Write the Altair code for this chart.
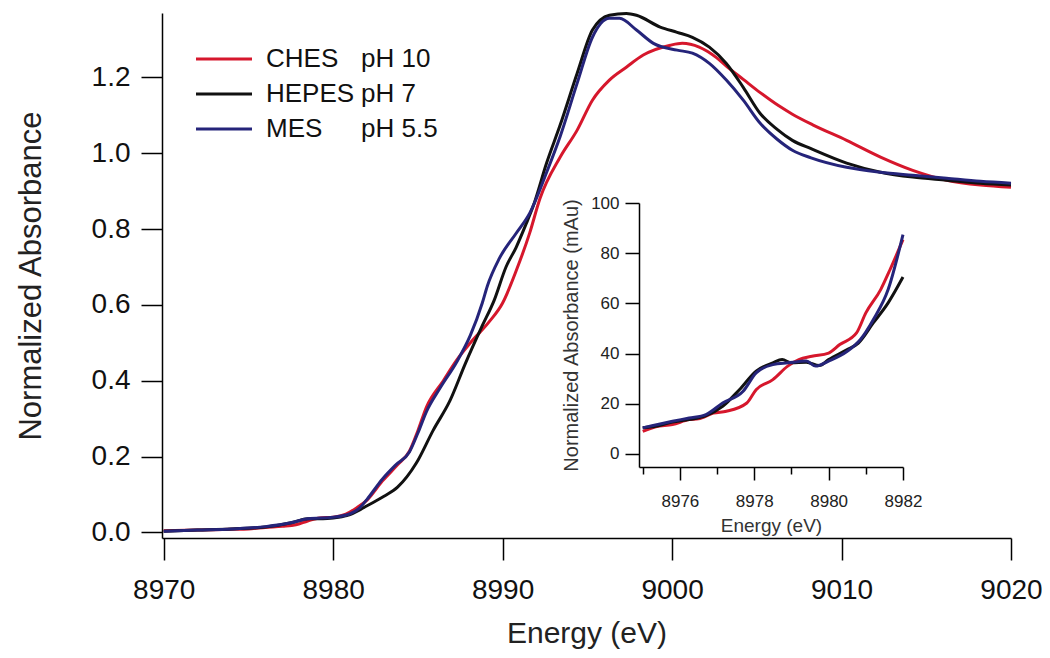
import altair as alt
import pandas as pd

FONT = "Liberation Sans"

# ---------------- main spectra (Energy eV, normalized absorbance) ----------------
ches_x = [8970, 8972, 8974, 8975, 8976, 8977, 8977.8, 8978.5, 8979.2, 8980, 8980.75, 8981.4, 8982.0,
          8982.9, 8983.8, 8984.5, 8985.0, 8985.5, 8986.5, 8987.3, 8988.1, 8989.2, 8990.0, 8990.8,
          8991.6, 8992.2, 8993.4, 8994.4, 8995.3, 8996.3, 8997.3, 8998.3, 8999.9, 9000.6, 9001.6,
          9002.6, 9003.2, 9004.2, 9005.2, 9006.3, 9007.1, 9008.3, 9010.3, 9012.3, 9014.2, 9016.2,
          9018.2, 9020]
ches_y = [0.004, 0.006, 0.008, 0.009, 0.013, 0.016, 0.020, 0.030, 0.038, 0.040, 0.048, 0.065, 0.085,
          0.135, 0.178, 0.214, 0.268, 0.330, 0.400, 0.455, 0.500, 0.555, 0.605, 0.690,
          0.790, 0.880, 0.990, 1.061, 1.140, 1.193, 1.227, 1.259, 1.285, 1.290, 1.280,
          1.253, 1.230, 1.195, 1.160, 1.125, 1.103, 1.075, 1.034, 0.990, 0.955, 0.929,
          0.916, 0.910]

hepes_x = [8970, 8972, 8974, 8976, 8977.6, 8978.5, 8979.4, 8980, 8980.8, 8981.6, 8982.0, 8983.0,
           8983.8, 8984.9, 8985.9, 8986.9, 8987.8, 8988.8, 8989.5, 8990.2, 8990.8, 8991.4, 8991.8,
           8992.6, 8993.4, 8994.4, 8995.3, 8996.3, 8997.3, 8997.9, 8999.3, 9000.3, 9001.2, 9002.2,
           9003.2, 9004.2, 9005.2, 9006.2, 9007.1, 9008.2, 9010.3, 9012.3, 9014.2, 9016.2, 9018.2,
           9020]
hepes_y = [0.003, 0.006, 0.009, 0.014, 0.026, 0.036, 0.036, 0.038, 0.044, 0.060, 0.070, 0.095,
           0.119, 0.182, 0.269, 0.348, 0.445, 0.545, 0.612, 0.700, 0.752, 0.815, 0.860,
           0.975, 1.075, 1.211, 1.325, 1.364, 1.369, 1.364, 1.333, 1.319, 1.306, 1.280,
           1.237, 1.174, 1.105, 1.063, 1.034, 1.012, 0.974, 0.950, 0.937, 0.929, 0.921,
           0.916]

mes_x = [8970, 8972, 8974, 8976, 8977.5, 8978.5, 8980, 8981, 8981.6, 8982.0, 8982.9, 8983.7,
         8984.5, 8985.0, 8985.5, 8986.3, 8987.3, 8988.1, 8988.8, 8989.1, 8989.8, 8990.8, 8991.6,
         8992.6, 8993.4, 8994.4, 8995.3, 8996.3, 8996.9, 8997.9, 8998.9, 9000.3, 9001.2, 9002.2,
         9003.2, 9004.2, 9005.2, 9006.2, 9007.1, 9008.2, 9010.3, 9012.3, 9014.2, 9016.2, 9018.2,
         9020]
mes_y = [0.003, 0.006, 0.009, 0.015, 0.025, 0.036, 0.040, 0.049, 0.066, 0.087, 0.140, 0.178,
         0.212, 0.262, 0.318, 0.380, 0.450, 0.520, 0.605, 0.650, 0.722, 0.789, 0.842,
         0.950, 1.045, 1.185, 1.306, 1.356, 1.356, 1.325, 1.290, 1.272, 1.264, 1.237,
         1.193, 1.140, 1.079, 1.037, 1.008, 0.988, 0.963, 0.950, 0.942, 0.934, 0.926,
         0.921]

# ---------------- inset pre-edge (Energy eV, mAu) ----------------
in_ches_x = [8975, 8975.35, 8975.8, 8976.25, 8976.5, 8976.9, 8977.25, 8977.8, 8978.05, 8978.5,
             8978.9, 8979.2, 8979.55, 8980.0, 8980.3, 8980.75, 8981.0, 8981.4, 8981.65, 8982.0]
in_ches_y = [9.0, 10.8, 11.7, 13.7, 14.0, 16.3, 17.0, 20.3, 25.6, 29.6,
             35.0, 37.6, 38.9, 40.2, 43.6, 48.2, 56.2, 65.5, 73.4, 85.4]

in_hepes_x = [8975, 8975.35, 8975.8, 8976.25, 8976.7, 8977.15, 8977.6, 8978.05, 8978.5, 8978.75,
              8979.0, 8979.4, 8979.75, 8980.0, 8980.5, 8980.8, 8981.2, 8981.6, 8982.0]
in_hepes_y = [10.4, 11.0, 12.7, 13.7, 15.3, 19.0, 25.6, 33.0, 36.3, 37.6,
              36.3, 36.5, 35.2, 37.6, 41.6, 44.2, 52.2, 60.2, 70.5]

in_mes_x = [8975, 8975.8, 8976.25, 8976.7, 8977.15, 8977.7, 8978.05, 8978.5, 8978.9, 8979.4,
            8979.65, 8980.0, 8980.5, 8980.85, 8981.2, 8981.6, 8982.0]
in_mes_y = [10.4, 13.0, 14.3, 15.7, 20.3, 25.0, 32.3, 35.6, 36.3, 37.0,
            35.0, 37.0, 40.9, 45.5, 53.5, 65.5, 87.4]

legend_names = ["CHES", "HEPES", "MES"]
legend_ph = ["pH 10", "pH 7", "pH 5.5"]
legend_rank = [0, 1, 2]
colors = ["#d6172c", "#111111", "#25247a"]

main_ticks = [8970, 8980, 8990, 9000, 9010, 9020]
main_yticks = [0.0, 0.2, 0.4, 0.6, 0.8, 1.0, 1.2]
inset_xticks = [8976, 8978, 8980, 8982]
inset_minor = [8975, 8977, 8979, 8981]
inset_yticks = [0, 20, 40, 60, 80, 100]

W, H = 849, 525

main_x = alt.Scale(domain=[8969.9, 9020], nice=False, zero=False)
main_y = alt.Scale(domain=[-0.015, 1.37], nice=False, zero=False)

ins_x = alt.Scale(domain=[8974.9, 8982], range=[477, 741], nice=False, zero=False)
ins_y = alt.Scale(domain=[-5.2, 100], range=[454, 190], nice=False, zero=False)

x_axis = alt.Axis(values=main_ticks, format="d", title="Energy (eV)", grid=False, orient="bottom",
                  tickSize=22, tickWidth=1.5, domainWidth=1.5, domainColor="black", tickColor="black",
                  labelFontSize=28, labelPadding=16, labelColor="#111", labelFont=FONT,
                  titleFontSize=30, titleFont=FONT, titleFontWeight="normal", titlePadding=14,
                  titleColor="#222", labelFlush=False)
y_axis = alt.Axis(values=main_yticks, format=".1f", title="Normalized Absorbance", grid=False,
                  orient="left",
                  tickSize=21, tickWidth=1.5, domainWidth=1.5, domainColor="black", tickColor="black",
                  labelFontSize=28, labelPadding=11, labelColor="#111", labelFont=FONT,
                  titleFontSize=31, titleFont=FONT, titleFontWeight="normal", titlePadding=44,
                  titleColor="#222", labelFlush=False)


def main_line(xs, ys, color):
    df = pd.DataFrame({"energy": xs, "absorb": ys})
    return alt.Chart(df).mark_line(color=color, strokeWidth=3, interpolate="monotone").encode(
        x=alt.X("energy:Q", scale=main_x, axis=x_axis),
        y=alt.Y("absorb:Q", scale=main_y, axis=y_axis),
    )


main = alt.layer(
    main_line(ches_x, ches_y, colors[0]),
    main_line(hepes_x, hepes_y, colors[1]),
    main_line(mes_x, mes_y, colors[2]),
)

ix_axis = alt.Axis(values=inset_xticks, format="d", title="Energy (eV)", grid=False, orient="bottom",
                   offset=-71, tickSize=13, tickWidth=1.5, domainWidth=1.5, domainColor="black",
                   tickColor="black", labelFontSize=17, labelPadding=13, labelColor="#222",
                   labelFont=FONT, titleFontSize=19, titleFont=FONT, titleFontWeight="normal",
                   titlePadding=7, titleColor="#333", labelFlush=False)
iy_axis = alt.Axis(values=inset_yticks, format="d", title="Normalized Absorbance (mAu)", grid=False,
                   orient="left", offset=-477, tickSize=14, tickWidth=1.5, domainWidth=1.5,
                   domainColor="black", tickColor="black", labelFontSize=17, labelPadding=6,
                   labelColor="#222", labelFont=FONT, titleFontSize=20, titleFont=FONT,
                   titleFontWeight="normal", titlePadding=9, titleColor="#333", labelFlush=False)


def inset_line(xs, ys, color):
    df = pd.DataFrame({"energy": xs, "mau": ys})
    return alt.Chart(df).mark_line(color=color, strokeWidth=3, interpolate="monotone").encode(
        x=alt.X("energy:Q", scale=ins_x, axis=ix_axis),
        y=alt.Y("mau:Q", scale=ins_y, axis=iy_axis),
    )


inset = alt.layer(
    inset_line(in_ches_x, in_ches_y, colors[0]),
    inset_line(in_hepes_x, in_hepes_y, colors[1]),
    inset_line(in_mes_x, in_mes_y, colors[2]),
)

# minor ticks of inset x axis (invisible line carrying the extra axis)
minor = alt.Chart(pd.DataFrame({"energy": in_hepes_x, "mau": in_hepes_y})).mark_line(opacity=0).encode(
    x=alt.X("energy:Q", scale=ins_x,
            axis=alt.Axis(values=inset_minor, labels=False, domain=False, grid=False, orient="bottom",
                          offset=-71, tickSize=7, tickWidth=1.5, tickColor="black", title=None)),
    y=alt.Y("mau:Q", scale=ins_y, axis=None),
)

# legend
leg_df = pd.DataFrame({"name": legend_names, "ph": legend_ph, "rank": legend_rank})
leg_y = alt.Y("rank:Q", scale=alt.Scale(domain=[0, 2], range=[46, 116], nice=False, zero=False), axis=None)
leg_color = alt.Color("name:N", scale=alt.Scale(domain=legend_names, range=colors), legend=None)
leg_rules = alt.Chart(leg_df).mark_rule(strokeWidth=3).encode(
    y=leg_y, x=alt.value(34), x2=alt.value(90), color=leg_color)
leg_names = alt.Chart(leg_df).mark_text(align="left", baseline="middle", fontSize=26, font=FONT,
                                        color="#111").encode(
    y=leg_y, x=alt.value(104), text="name:N")
leg_ph = alt.Chart(leg_df).mark_text(align="left", baseline="middle", fontSize=26, font=FONT,
                                     color="#111").encode(
    y=leg_y, x=alt.value(199), text="ph:N")
legend = alt.layer(leg_rules, leg_names, leg_ph)

chart = alt.layer(main, inset, minor, legend).resolve_scale(
    x="independent", y="independent"
).properties(
    width=W, height=H,
    autosize=alt.AutoSizeParams(type="none"),
    padding={"left": 154, "top": 5, "right": 31, "bottom": 112},
).configure(background="white").configure_view(stroke=None)

chart.save("out.html", embed_options={"renderer": "svg", "actions": False})
